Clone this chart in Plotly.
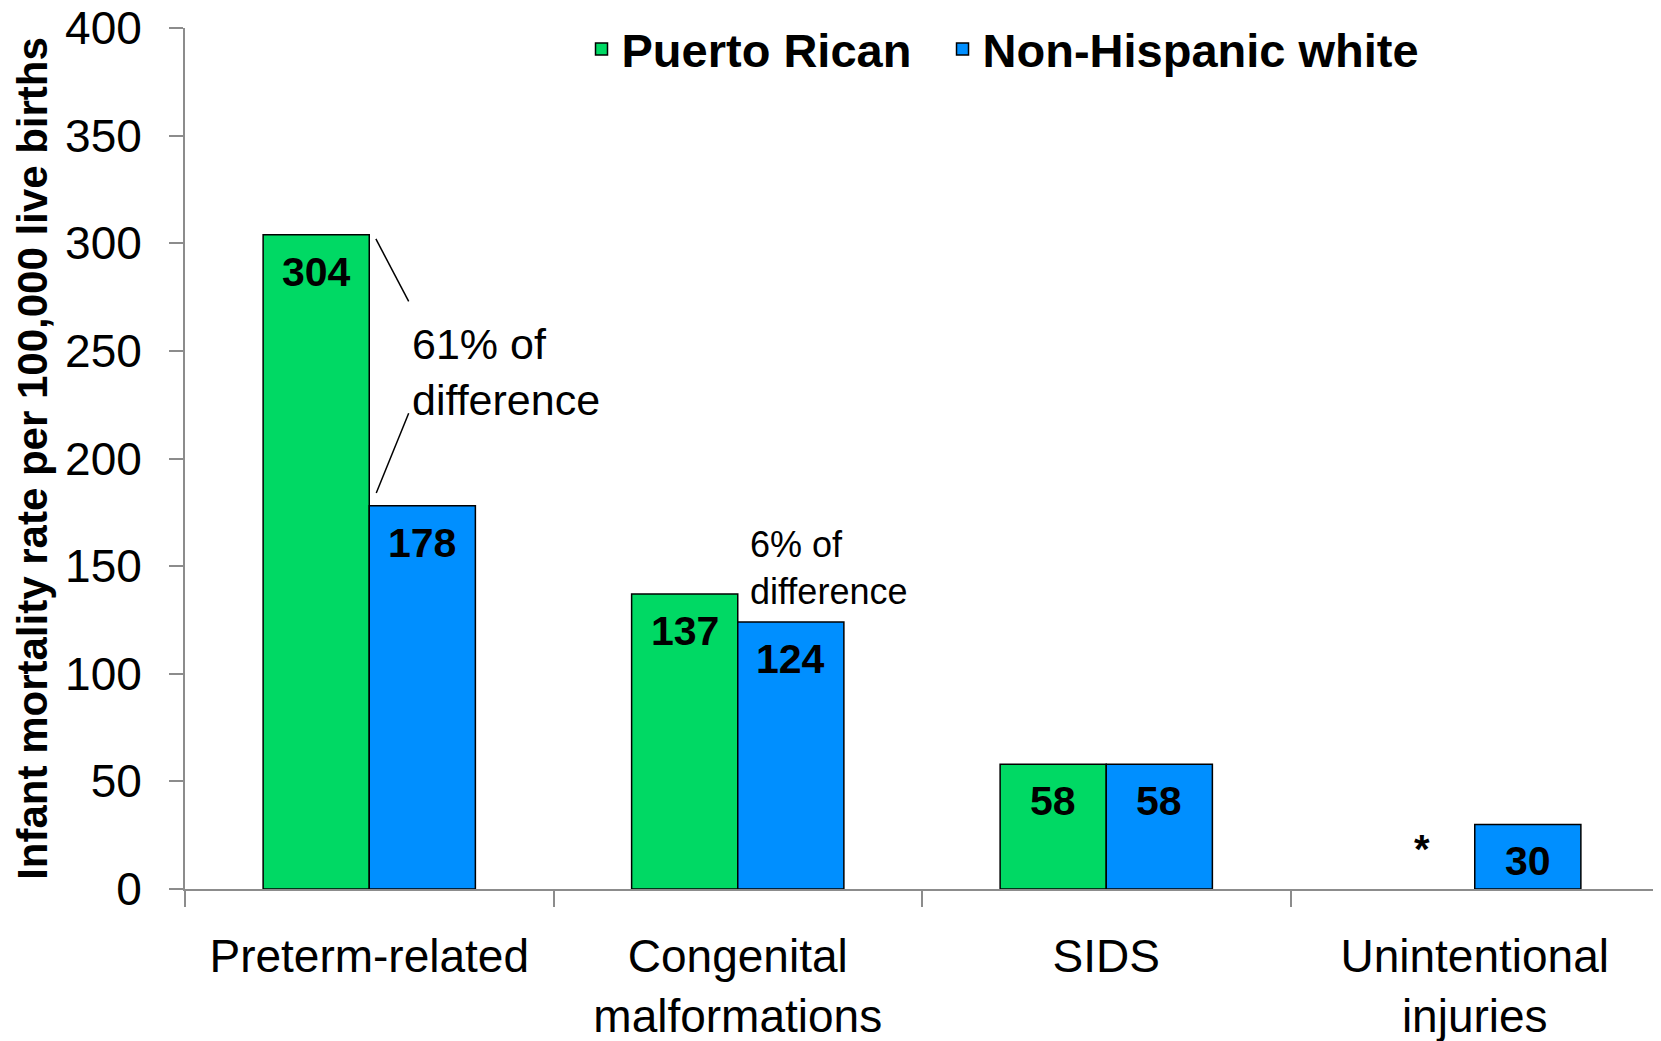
import plotly.graph_objects as go

# ---- data ----
categories = ["Preterm-related", "Congenital<br>malformations", "SIDS", "Unintentional<br>injuries"]
puerto_rican = [304, 137, 58, None]
nh_white = [178, 124, 58, 30]
series_names = ["Puerto Rican", "Non-Hispanic white"]
y_ticks = [0, 50, 100, 150, 200, 250, 300, 350, 400]
y_title = "Infant mortality rate per 100,000 live births"
suppressed_mark = "*"
note_preterm = "61% of<br>difference"
note_congenital = "6% of<br>difference"

# ---- style ----
GREEN = "#00D964"
BLUE = "#008FFF"
AXIS_GREY = "#8C8C8C"
FONT = "Liberation Sans, Arial, sans-serif"
BARGAP = 0.424
half = (1 - BARGAP) / 4  # offset of bar centre from category centre (category units)
NBSP = "\u00a0"
PAGE_OFFSET = 8  # default body margin of the html page

fig = go.Figure()
for k, (name, vals, col) in enumerate([(series_names[0], puerto_rican, GREEN),
                                       (series_names[1], nh_white, BLUE)]):
    fig.add_trace(go.Bar(
        x=categories, y=vals,
        name=name + (NBSP * 2 if k == 0 else ""),
        marker=dict(color=col, line=dict(color="black", width=1.5)),
        hovertemplate="%{x}: %{y}<extra>" + name + "</extra>",
    ))

annotations = []
# value labels inside bar tops
for sign, vals in [(-1, puerto_rican), (1, nh_white)]:
    for i, v in enumerate(vals):
        if v is None:
            annotations.append(dict(x=i + sign * half, y=0, xref="x", yref="y", text=suppressed_mark,
                                    showarrow=False, yanchor="middle", yshift=40,
                                    font=dict(family=FONT, size=40, color="black", weight="bold")))
        else:
            annotations.append(dict(x=i + sign * half, y=v, xref="x", yref="y", text=str(v),
                                    showarrow=False, yanchor="middle", yshift=-37,
                                    font=dict(family=FONT, size=41, color="black", weight="bold")))

# difference notes
annotations.append(dict(x=0.11, y=240, xref="x", yref="y", text=note_preterm, showarrow=False,
                        xanchor="left", yanchor="middle", align="left",
                        font=dict(family=FONT, size=43, color="black")))
annotations.append(dict(x=1.029, y=149, xref="x", yref="y", text=note_congenital, showarrow=False,
                        xanchor="left", yanchor="middle", align="left",
                        font=dict(family=FONT, size=36, color="black")))

shapes = [
    dict(type="line", xref="x", yref="y", x0=0.018, x1=0.107,
         y0=puerto_rican[0] - 2, y1=puerto_rican[0] - 31, line=dict(color="black", width=1.5)),
    dict(type="line", xref="x", yref="y", x0=0.107, x1=0.019,
         y0=nh_white[0] + 43, y1=nh_white[0] + 6, line=dict(color="black", width=1.5)),
]

fig.update_layout(
    width=1661 - PAGE_OFFSET, height=1041 - PAGE_OFFSET,
    margin=dict(l=185 - PAGE_OFFSET, r=2, t=27.5 - PAGE_OFFSET, b=152, pad=0, autoexpand=False),
    paper_bgcolor="white", plot_bgcolor="white",
    barmode="group", bargap=BARGAP, bargroupgap=0,
    font=dict(family=FONT, color="black"),
    showlegend=True,
    legend=dict(orientation="h", x=0.269, xanchor="left", y=0.975, yanchor="middle",
                font=dict(family=FONT, size=47, color="black", weight="bold"),
                bgcolor="rgba(0,0,0,0)", traceorder="normal"),
    annotations=annotations,
    shapes=shapes,
)
fig.update_xaxes(
    type="category", range=[-0.5, 3.5], automargin=False,
    showline=True, linecolor=AXIS_GREY, linewidth=2,
    ticks="outside", tickson="boundaries", ticklen=16, tickcolor=AXIS_GREY, tickwidth=2,
    ticklabelstandoff=26, ticklabeloverflow="allow",
    tickfont=dict(family=FONT, size=46, color="black"),
    showgrid=False, zeroline=False,
)
fig.update_yaxes(
    range=[0, 400], tickvals=y_ticks, ticktext=[str(t) for t in y_ticks], automargin=False,
    showline=True, linecolor=AXIS_GREY, linewidth=2,
    ticks="outside", ticklen=14, tickcolor=AXIS_GREY, tickwidth=2,
    ticklabelstandoff=18, ticklabeloverflow="allow",
    tickfont=dict(family=FONT, size=46, color="black"),
    showgrid=False, zeroline=False,
    title=dict(text=y_title, standoff=4,
               font=dict(family=FONT, size=42, color="black", weight="bold")),
)

fig.write_html("out.html")
